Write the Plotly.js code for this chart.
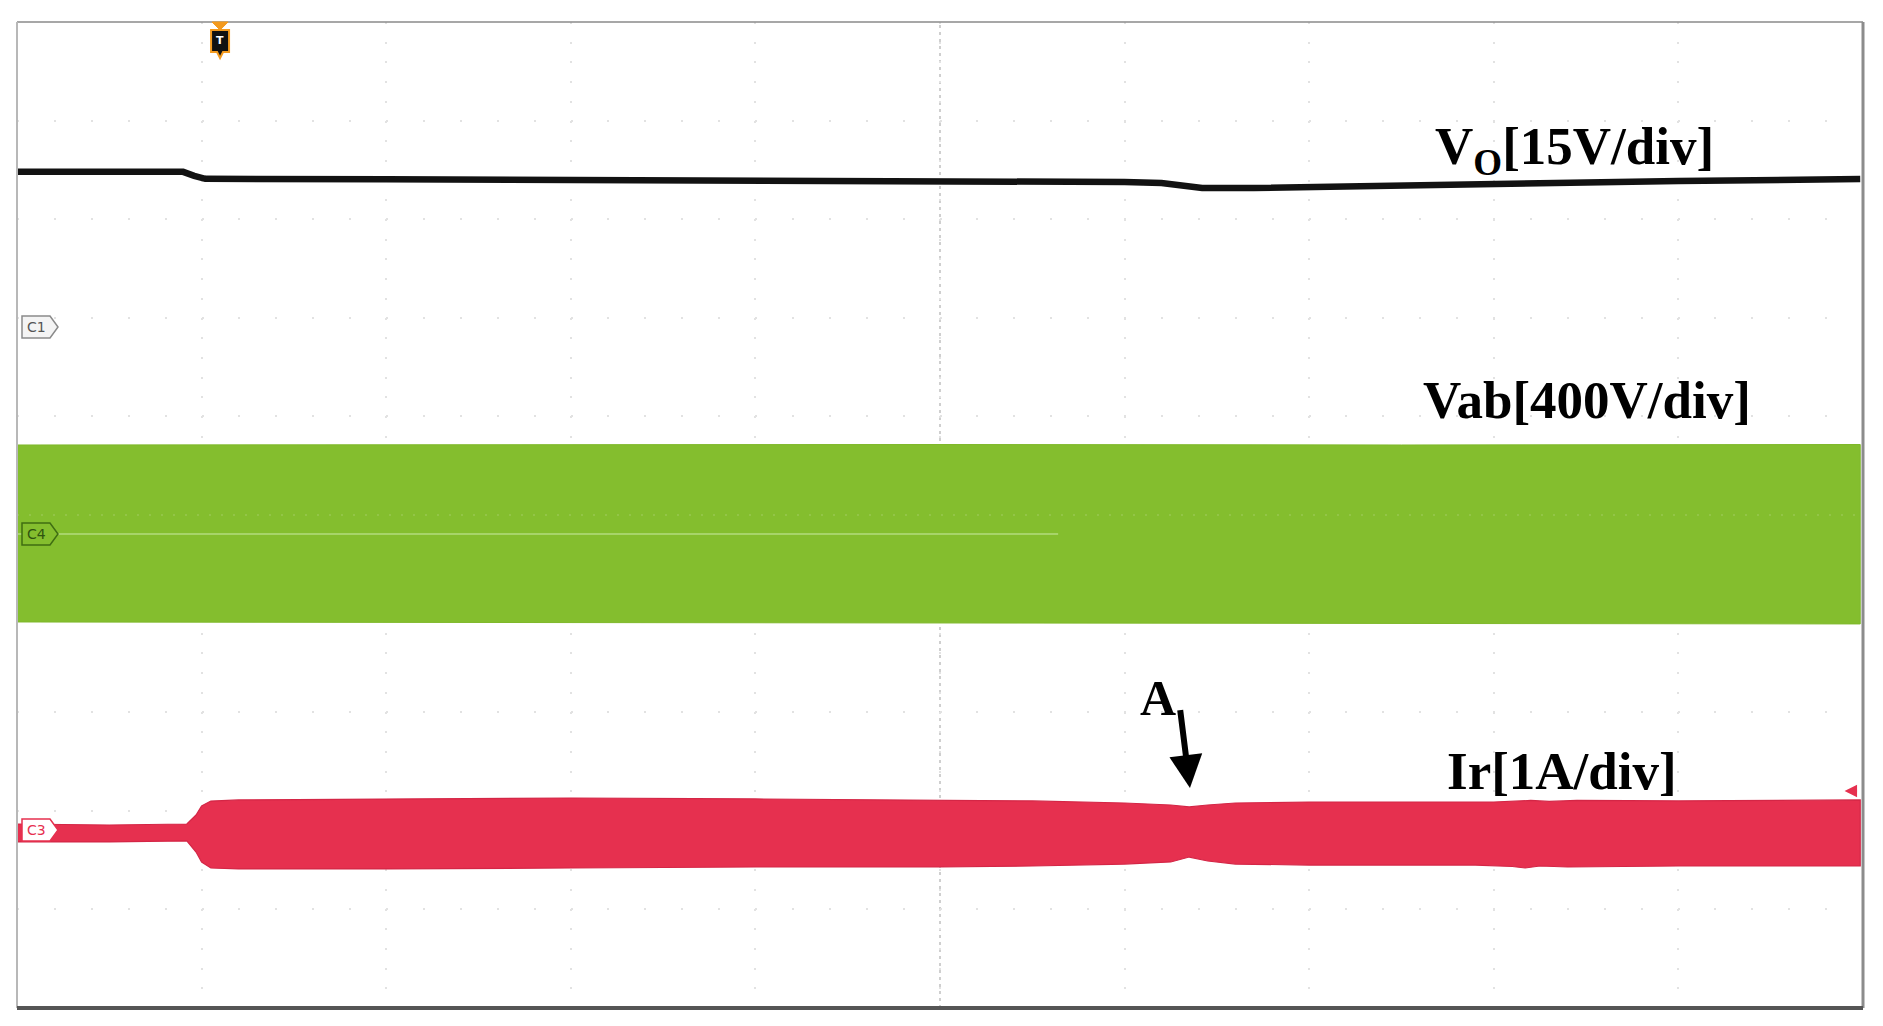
<!DOCTYPE html>
<html>
<head>
<meta charset="utf-8">
<script src="https://cdn.plot.ly/plotly-3.0.1.min.js"></script>
<style>
  html, body { margin: 0; padding: 0; background: #fff; }
  #chart { width: 1883px; height: 1026px; }
</style>
</head>
<body>
<div id="chart"></div>
<script>
// time in divisions (10 div across), amplitude in divisions (+-5)
const voTime = [0, 0.90, 0.96, 1.02, 2, 3, 4, 5, 6.0, 6.2, 6.33, 6.42, 6.7, 7, 8, 9, 9.985]
const voLevel = [3.48, 3.48, 3.44, 3.41, 3.405, 3.40, 3.40, 3.398, 3.377, 3.368, 3.345, 3.316, 3.316, 3.327, 3.357, 3.387, 3.408]

const vabTime = [0, 2.5, 5, 7.5, 9.985]
const vabTop = [0.71, 0.715, 0.715, 0.71, 0.715]
const vabBottom = [-1.085, -1.09, -1.09, -1.10, -1.105]
const vabRefTime = [0, 5.64]
const vabRefLevel = [-0.193, -0.193]

const irTopTime = [0, 0.5, 0.92, 0.97, 1.0, 1.05, 1.2, 2, 3, 4, 5, 5.5, 6.0, 6.25, 6.35, 6.45, 6.6, 7, 8, 8.2, 8.3, 8.45, 9, 9.985]
const irTop = [-3.134, -3.144, -3.134, -3.043, -2.951, -2.901, -2.89, -2.88, -2.87, -2.88, -2.89, -2.90, -2.921, -2.941, -2.961, -2.941, -2.921, -2.911, -2.911, -2.895, -2.905, -2.895, -2.90, -2.89]
const irBottomTime = [0, 0.5, 0.92, 0.97, 1.0, 1.05, 1.2, 2, 3, 4, 5, 5.5, 6.0, 6.25, 6.35, 6.45, 6.6, 7, 7.9, 8.1, 8.17, 8.25, 8.4, 9, 9.985]
const irBottom = [-3.316, -3.316, -3.306, -3.418, -3.519, -3.58, -3.59, -3.59, -3.58, -3.57, -3.57, -3.56, -3.54, -3.519, -3.469, -3.509, -3.54, -3.55, -3.55, -3.565, -3.58, -3.56, -3.57, -3.56, -3.56]

const labelText = ['V<sub>O</sub>[15V/div]', 'Vab[400V/div]', 'Ir[1A/div]']
const labelTime = [7.671, 7.606, 7.736]
const labelLevel = [3.70, 1.166, -2.596]

const tagText = ['C1', 'C4', 'C3']
const tagLevel = [1.907, -0.193, -3.195]
const tagFill = ['#f4f4f4', '#84be2e', '#ffffff']
const tagLine = ['#8a8a8a', '#3f6e12', '#e6304f']
const tagFont = ['#555555', '#2f5410', '#e6304f']

const triggerTime = 1.1

function band(tTop, top, tBot, bot) {
    return {
        x: tTop.concat(tBot.slice().reverse()),
        y: top.concat(bot.slice().reverse())
    }
}

const vab = band(vabTime, vabTop, vabTime, vabBottom)
const ir = band(irTopTime, irTop, irBottomTime, irBottom)

const data = [
    {
        x: vab.x, y: vab.y, type: 'scatter', mode: 'lines', fill: 'toself',
        fillcolor: '#84be2e', line: {color: '#7fb82a', width: 1}, hoverinfo: 'skip'
    },
    {
        x: vabRefTime, y: vabRefLevel, type: 'scatter', mode: 'lines',
        line: {color: 'rgba(176,218,120,0.8)', width: 2}, hoverinfo: 'skip'
    },
    {
        x: ir.x, y: ir.y, type: 'scatter', mode: 'lines', fill: 'toself',
        fillcolor: '#e6304f', line: {color: '#d42646', width: 1.2}, hoverinfo: 'skip'
    },
    {
        x: voTime, y: voLevel, type: 'scatter', mode: 'lines',
        line: {color: '#121212', width: 6.5}, hoverinfo: 'skip'
    }
]

const serif = '"Liberation Serif", "Times New Roman", "DejaVu Serif", serif'

const annotations = []
labelText.forEach((t, i) => {
    annotations.push({
        x: labelTime[i], y: labelLevel[i], xref: 'x', yref: 'y',
        text: '<b>' + t + '</b>', showarrow: false,
        xanchor: 'left', yanchor: 'middle',
        font: {family: serif, size: 53, color: '#000'}
    })
})
annotations.push({
    x: 6.073, y: -1.856, xref: 'x', yref: 'y', text: '<b>A</b>', showarrow: false,
    xanchor: 'left', yanchor: 'middle', font: {family: serif, size: 50, color: '#000'}
})
// arrow pointing at point A
annotations.push({
    x: 6.354, y: -2.769, xref: 'x', yref: 'y', text: ' ', showarrow: true,
    ax: -10, ay: -80, arrowhead: 2, arrowsize: 1.1, arrowwidth: 6, arrowcolor: '#000',
    font: {size: 1}
})
// channel 3 level arrow at right edge
annotations.push({
    x: 9.90, y: -2.80, xref: 'x', yref: 'y', text: ' ', showarrow: true,
    ax: 14, ay: 0, arrowhead: 2, arrowsize: 1, arrowwidth: 2.5, arrowcolor: '#e6304f',
    font: {size: 1}
})
tagText.forEach((t, i) => {
    annotations.push({
        x: 0, y: tagLevel[i], xref: 'x', yref: 'y', text: t, showarrow: false,
        xanchor: 'left', yanchor: 'middle', xshift: 8,
        font: {family: 'DejaVu Sans', size: 14, color: tagFont[i]}
    })
})
annotations.push({
    x: triggerTime, y: 1, xref: 'x', yref: 'paper', text: '<b>T</b>', showarrow: false,
    xanchor: 'center', yanchor: 'middle', yshift: -18,
    font: {family: 'DejaVu Sans', size: 11, color: '#fff'}
})

const shapes = [
    // centre graticule line
    {type: 'line', xref: 'x', yref: 'paper', x0: 5, x1: 5, y0: 0, y1: 1, layer: 'below',
        line: {color: '#cfcfcf', width: 2, dash: '3px,4px'}},
    {type: 'line', xref: 'paper', yref: 'y', x0: 0, x1: 1, y0: 0, y1: 0, layer: 'above',
        line: {color: 'rgba(255,255,255,0.12)', width: 2, dash: '2px,10px'}},
    // frame
    {type: 'line', xref: 'paper', yref: 'paper', x0: 0, x1: 1, y0: 1, y1: 1, line: {color: '#8a8a8a', width: 1.5}},
    {type: 'line', xref: 'paper', yref: 'paper', x0: 0, x1: 0, y0: 0, y1: 1, line: {color: '#b8b8b8', width: 2}},
    {type: 'line', xref: 'paper', yref: 'paper', x0: 1, x1: 1, y0: 0, y1: 1, line: {color: '#8c8c8c', width: 3}},
    {type: 'line', xref: 'paper', yref: 'paper', x0: 0, x1: 1, y0: 0, y1: 0, line: {color: '#555', width: 4}}
]
tagText.forEach((t, i) => {
    shapes.push({
        type: 'path', xref: 'x', yref: 'y', xsizemode: 'pixel', ysizemode: 'pixel',
        xanchor: 0, yanchor: tagLevel[i],
        path: 'M 5,-11 L 33,-11 L 41,0 L 33,11 L 5,11 Z',
        fillcolor: tagFill[i], line: {color: tagLine[i], width: 1.5}
    })
})
// trigger marker
shapes.push({
    type: 'path', xref: 'x', yref: 'paper', xsizemode: 'pixel', ysizemode: 'pixel',
    xanchor: triggerTime, yanchor: 1,
    path: 'M -8,0 L 8,0 L 0,-8 Z', fillcolor: '#f39a1e', line: {color: '#f39a1e', width: 1}
})
shapes.push({
    type: 'path', xref: 'x', yref: 'paper', xsizemode: 'pixel', ysizemode: 'pixel',
    xanchor: triggerTime, yanchor: 1,
    path: 'M -9,-8 L 9,-8 L 9,-30 L 3,-30 L 0,-36 L -3,-30 L -9,-30 Z',
    fillcolor: '#111', line: {color: '#f39a1e', width: 2}
})

const layout = {
    width: 1883,
    height: 1026,
    margin: {l: 17, r: 20, t: 22, b: 18, pad: 0},
    paper_bgcolor: '#fff',
    plot_bgcolor: '#fff',
    showlegend: false,
    xaxis: {
        range: [0, 10], dtick: 1, tick0: 0, showgrid: true, gridcolor: '#e2e2e2', gridwidth: 2,
        griddash: '2px,17.7px', zeroline: false, showticklabels: false, ticks: '', showline: false, fixedrange: true
    },
    yaxis: {
        range: [-5, 5], dtick: 1, tick0: 0, showgrid: true, gridcolor: '#e2e2e2', gridwidth: 2,
        griddash: '2px,34.9px', zeroline: false, showticklabels: false, ticks: '', showline: false, fixedrange: true
    },
    annotations: annotations,
    shapes: shapes
}

Plotly.newPlot('chart', data, layout, {displayModeBar: false, staticPlot: true})
</script>
</body>
</html>
